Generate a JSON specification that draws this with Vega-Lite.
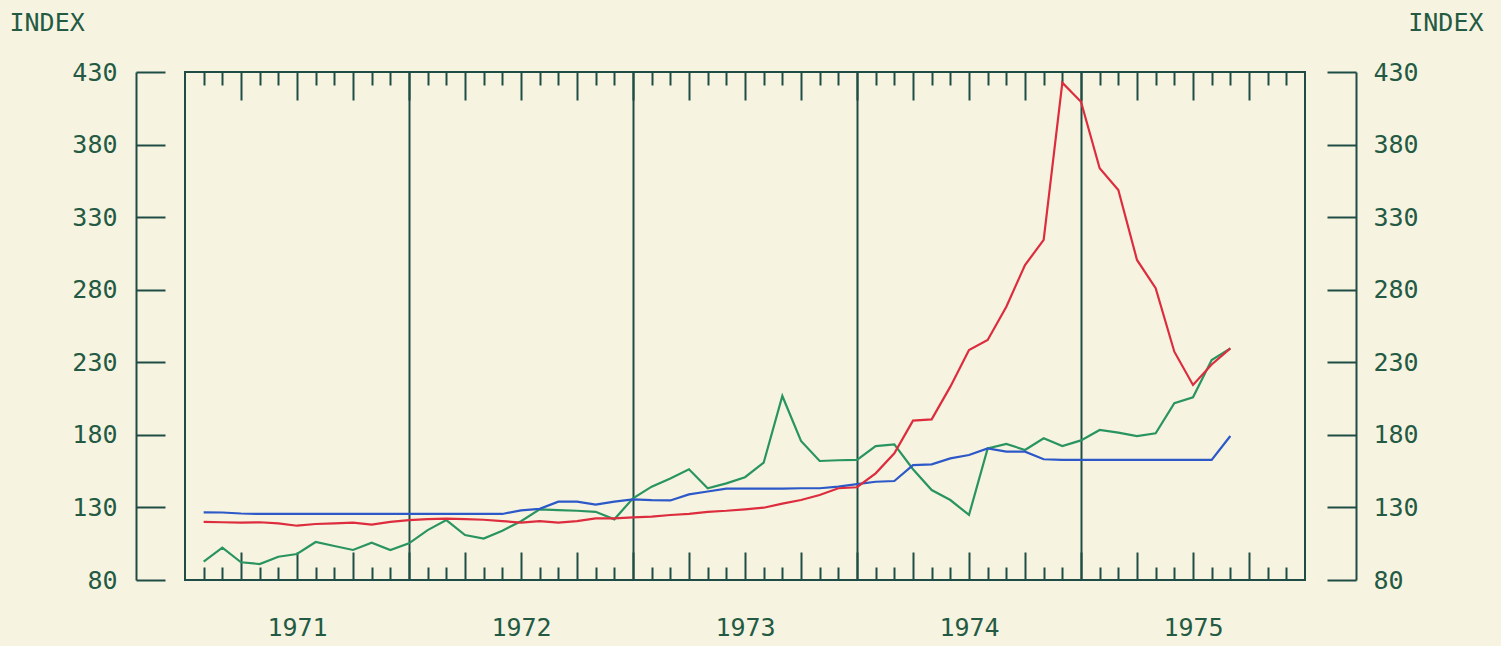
{
  "$schema": "https://vega.github.io/schema/vega-lite/v6.json",
  "width": 1120,
  "height": 508,
  "autosize": {"type": "none"},
  "padding": {"left": 185, "top": 72, "right": 196, "bottom": 66},
  "background": "#f6f4e0",
  "config": {
    "view": {"stroke": "#1f4d45", "strokeWidth": 2},
    "font": "DejaVu Sans Mono"
  },
  "data": {
    "values": [
      {"t": 1, "red": 120, "blue": 126.6, "green": 92.6},
      {"t": 2, "red": 119.8, "blue": 126.5, "green": 102.3},
      {"t": 3, "red": 119.5, "blue": 125.8, "green": 92.2},
      {"t": 4, "red": 119.8, "blue": 125.5, "green": 91},
      {"t": 5, "red": 119, "blue": 125.5, "green": 96},
      {"t": 6, "red": 117.4, "blue": 125.5, "green": 97.9},
      {"t": 7, "red": 118.6, "blue": 125.5, "green": 106.2},
      {"t": 8, "red": 119, "blue": 125.5, "green": 103.4},
      {"t": 9, "red": 119.5, "blue": 125.5, "green": 100.7},
      {"t": 10, "red": 118.1, "blue": 125.5, "green": 105.7},
      {"t": 11, "red": 120, "blue": 125.5, "green": 100.7},
      {"t": 12, "red": 121.3, "blue": 125.5, "green": 105.3},
      {"t": 13, "red": 122, "blue": 125.5, "green": 114.4},
      {"t": 14, "red": 122.3, "blue": 125.5, "green": 121.3},
      {"t": 15, "red": 122, "blue": 125.5, "green": 111},
      {"t": 16, "red": 121.5, "blue": 125.5, "green": 108.5},
      {"t": 17, "red": 120.6, "blue": 125.5, "green": 114},
      {"t": 18, "red": 119.5, "blue": 128, "green": 120.5},
      {"t": 19, "red": 120.6, "blue": 129, "green": 128.7},
      {"t": 20, "red": 119.5, "blue": 134, "green": 128.2},
      {"t": 21, "red": 120.6, "blue": 134, "green": 127.7},
      {"t": 22, "red": 122.5, "blue": 132, "green": 127},
      {"t": 23, "red": 122.5, "blue": 134, "green": 121.8},
      {"t": 24, "red": 123.2, "blue": 135.6, "green": 136.3},
      {"t": 25, "red": 123.6, "blue": 135, "green": 144.3},
      {"t": 26, "red": 124.8, "blue": 134.8, "green": 150},
      {"t": 27, "red": 125.5, "blue": 139, "green": 156.3},
      {"t": 28, "red": 127, "blue": 141, "green": 143.2},
      {"t": 29, "red": 127.7, "blue": 143, "green": 146.6},
      {"t": 30, "red": 128.7, "blue": 143, "green": 150.8},
      {"t": 31, "red": 129.8, "blue": 143, "green": 160.8},
      {"t": 32, "red": 132.6, "blue": 143, "green": 206.8},
      {"t": 33, "red": 135.1, "blue": 143.2, "green": 175.8},
      {"t": 34, "red": 138.6, "blue": 143.2, "green": 162},
      {"t": 35, "red": 143.2, "blue": 144.3, "green": 162.5},
      {"t": 36, "red": 143.9, "blue": 146.1, "green": 162.7},
      {"t": 37, "red": 153.5, "blue": 147.7, "green": 172.3},
      {"t": 38, "red": 167.3, "blue": 148.2, "green": 173.5},
      {"t": 39, "red": 189.8, "blue": 159.2, "green": 156.3},
      {"t": 40, "red": 190.7, "blue": 159.7, "green": 142},
      {"t": 41, "red": 213.2, "blue": 163.8, "green": 135.1},
      {"t": 42, "red": 238.5, "blue": 166.1, "green": 124.8},
      {"t": 43, "red": 245.4, "blue": 170.7, "green": 170.7},
      {"t": 44, "red": 268.3, "blue": 168.4, "green": 173.7},
      {"t": 45, "red": 297, "blue": 168.4, "green": 169.6},
      {"t": 46, "red": 314.3, "blue": 163.2, "green": 177.6},
      {"t": 47, "red": 422.6, "blue": 162.7, "green": 172.3},
      {"t": 48, "red": 409.5, "blue": 162.7, "green": 176.2},
      {"t": 49, "red": 363.7, "blue": 162.7, "green": 183.4},
      {"t": 50, "red": 348.7, "blue": 162.7, "green": 181.5},
      {"t": 51, "red": 300.5, "blue": 162.7, "green": 179.2},
      {"t": 52, "red": 281, "blue": 162.7, "green": 181.1},
      {"t": 53, "red": 237.3, "blue": 162.7, "green": 201.8},
      {"t": 54, "red": 214.4, "blue": 162.7, "green": 205.9},
      {"t": 55, "red": 228.5, "blue": 162.7, "green": 231.6},
      {"t": 56, "red": 239.6, "blue": 179.2, "green": 239.6}
    ]
  },
  "transform": [{"fold": ["green", "blue", "red"], "as": ["series", "value"]}],
  "layer": [
    {
      "mark": {"type": "line", "strokeWidth": 2.2},
      "encoding": {
        "x": {
          "field": "t",
          "type": "quantitative",
          "scale": {"domain": [0, 60], "nice": false, "zero": false},
          "axis": {
            "orient": "bottom",
            "values": [1,2,3,4,5,6,7,8,9,10,11,12,13,14,15,16,17,18,19,20,21,22,23,24,25,26,27,28,29,30,31,32,33,34,35,36,37,38,39,40,41,42,43,44,45,46,47,48,49,50,51,52,53,54,55,56,57,58,59],
            "domain": false,
            "ticks": true,
            "tickColor": "#1f4d45",
            "tickWidth": 2,
            "tickSize": {"condition": {"test": "datum.value % 3 === 0", "value": -28}, "value": -13},
            "grid": true,
            "gridColor": "#1f4d45",
            "gridWidth": 2,
            "gridOpacity": {"condition": {"test": "datum.value % 12 === 0", "value": 1}, "value": 0},
            "labelExpr": "datum.value % 12 === 6 ? '' + (1970 + (datum.value + 6) / 12) : ''",
            "labelFont": "DejaVu Sans Mono",
            "labelFontSize": 25,
            "labelColor": "#245a44",
            "labelPadding": 63,
            "labelOverlap": false,
            "labelFlush": false,
            "labelBound": false,
            "title": null
          }
        },
        "y": {
          "field": "value",
          "type": "quantitative",
          "scale": {"domain": [80, 430], "nice": false, "zero": false},
          "axis": {
            "orient": "left",
            "offset": 49,
            "values": [80, 130, 180, 230, 280, 330, 380, 430],
            "domainColor": "#1f4d45",
            "domainWidth": 2,
            "tickColor": "#1f4d45",
            "tickWidth": 2,
            "tickSize": -29,
            "labelPadding": 48,
            "labelFont": "DejaVu Sans Mono",
            "labelFontSize": 25,
            "labelColor": "#245a44",
            "grid": false,
            "title": "INDEX",
            "titleAngle": 0,
            "titleX": -127,
            "titleY": -50,
            "titleAlign": "left",
            "titleBaseline": "middle",
            "titleFont": "DejaVu Sans Mono",
            "titleFontSize": 25,
            "titleFontWeight": "normal",
            "titleColor": "#245a44"
          }
        },
        "color": {
          "field": "series",
          "type": "nominal",
          "scale": {"domain": ["green", "blue", "red"], "range": ["#2a9460", "#2c58c8", "#dc2c3e"]},
          "legend": null
        }
      }
    },
    {
      "mark": {"type": "line", "strokeOpacity": 0},
      "encoding": {
        "x": {
          "field": "t",
          "type": "quantitative",
          "axis": {
            "orient": "top",
            "values": [1,2,3,4,5,6,7,8,9,10,11,12,13,14,15,16,17,18,19,20,21,22,23,24,25,26,27,28,29,30,31,32,33,34,35,36,37,38,39,40,41,42,43,44,45,46,47,48,49,50,51,52,53,54,55,56,57,58,59],
            "domain": false,
            "tickColor": "#1f4d45",
            "tickWidth": 2,
            "tickSize": {"condition": {"test": "datum.value % 3 === 0", "value": -28}, "value": -13},
            "labels": false,
            "grid": false,
            "title": null
          }
        },
        "y": {
          "field": "value",
          "type": "quantitative",
          "axis": {
            "orient": "right",
            "offset": 51,
            "values": [80, 130, 180, 230, 280, 330, 380, 430],
            "domainColor": "#1f4d45",
            "domainWidth": 2,
            "tickColor": "#1f4d45",
            "tickWidth": 2,
            "tickSize": -29,
            "labelPadding": 46,
            "labelFont": "DejaVu Sans Mono",
            "labelFontSize": 25,
            "labelColor": "#245a44",
            "grid": false,
            "title": "INDEX",
            "titleAngle": 0,
            "titleX": 127,
            "titleY": -50,
            "titleAlign": "right",
            "titleBaseline": "middle",
            "titleFont": "DejaVu Sans Mono",
            "titleFontSize": 25,
            "titleFontWeight": "normal",
            "titleColor": "#245a44"
          }
        }
      }
    }
  ],
  "resolve": {"axis": {"x": "independent", "y": "independent"}}
}
